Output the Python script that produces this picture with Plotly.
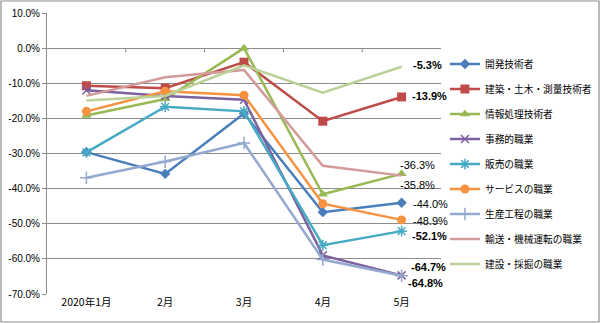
import plotly.graph_objects as go

months = ["2020年1月", "2月", "3月", "4月", "5月"]

series_names = [
    "開発技術者", "建築・土木・測量技術者", "情報処理技術者", "事務的職業",
    "販売の職業", "サービスの職業", "生産工程の職業", "輸送・機械運転の職業", "建設・採掘の職業",
]

kaihatsu = [-29.6, -35.8, -18.6, -46.7, -44.0]
kenchiku = [-10.7, -11.4, -4.0, -20.8, -13.9]
jouhou = [-19.2, -14.5, 0.0, -41.6, -35.8]
jimu = [-12.0, -13.6, -14.7, -59.0, -64.7]
hanbai = [-29.7, -16.7, -18.0, -56.1, -52.1]
service = [-18.0, -12.3, -13.4, -44.3, -48.9]
seisan = [-36.9, -32.3, -27.0, -60.2, -64.8]
yusou = [-13.6, -8.3, -6.2, -33.5, -36.3]
kensetsu = [-14.9, -13.6, -4.9, -12.7, -5.3]

values = [kaihatsu, kenchiku, jouhou, jimu, hanbai, service, seisan, yusou, kensetsu]

y_ticks = [10, 0, -10, -20, -30, -40, -50, -60, -70]
y_tick_labels = ["10.0%", "0.0%", "-10.0%", "-20.0%", "-30.0%", "-40.0%", "-50.0%", "-60.0%", "-70.0%"]

# styles
colors = ["#4A7EBB", "#BE4B48", "#98B954", "#7D60A0", "#46AAC5", "#F69240", "#93A9CF", "#D29B9A", "#BBD197"]
symbols = ["diamond", "square", "triangle-up", "x-thin", "asterisk", "circle", "cross-thin", None, None]
msizes = [8, 9, 9, 8, 9, 9, 9, 0, 0]
# label offsets (xshift, yshift, bold)
label_style = [
    (9, -1, False), (8, 1, True), (-4, -11, False), (7, 8, True), (8, -5, True),
    (9, -1, False), (4, -7, True), (-4, 11, False), (9, 2, True),
]

fig = go.Figure()
for i, (name, vals) in enumerate(zip(series_names, values)):
    marker = dict(color=colors[i], size=msizes[i])
    if symbols[i]:
        marker["symbol"] = symbols[i]
        if symbols[i] in ("x-thin", "asterisk", "cross-thin"):
            marker["line"] = dict(color=colors[i], width=1.5)
    fig.add_trace(go.Scatter(
        x=months, y=vals, name=name, legendgroup=name,
        mode="lines+markers" if symbols[i] else "lines",
        line=dict(color=colors[i], width=2.5),
        marker=marker,
    ))
    xs, ys, bold = label_style[i]
    txt = f"{vals[-1]:.1f}%"
    fig.add_annotation(
        x=months[-1], y=vals[-1], text=f"<b>{txt}</b>" if bold else txt,
        showarrow=False, xanchor="left", yanchor="middle",
        xshift=xs, yshift=ys,
        font=dict(family="Liberation Sans, Arial", size=11, color="#000000"),
    )

# tick marks on the zero line between categories
for k in range(1, len(months)):
    fig.add_shape(type="line", xref="x", yref="y", x0=k - 0.5, x1=k - 0.5,
                  y0=0, y1=-1.2, line=dict(color="#868686", width=1))

# outer border
fig.add_shape(type="rect", xref="paper", yref="paper",
              x0=-46 / 394, x1=552 / 394, y0=-28 / 281, y1=293 / 281,
              line=dict(color="#8C8C8C", width=1.2), fillcolor="rgba(0,0,0,0)", layer="below")

fig.update_layout(
    width=600, height=323,
    margin=dict(l=47, r=159, t=13, b=29, autoexpand=False),
    paper_bgcolor="white", plot_bgcolor="white",
    font=dict(family="Noto Sans CJK JP", size=11, color="#000000"),
    showlegend=True,
    legend=dict(
        x=1.01, y=0.870, xanchor="left", yanchor="top",
        font=dict(family="Noto Sans CJK JP", size=9.7, color="#000000"),
        tracegroupgap=6, itemwidth=30, bgcolor="rgba(0,0,0,0)",
    ),
    xaxis=dict(
        type="category", range=[-0.5, 4.5], showgrid=False,
        showline=False, ticks="", zeroline=False,
        tickfont=dict(family="Noto Sans CJK JP", size=10.5, color="#000000"),
        fixedrange=True,
    ),
    yaxis=dict(
        range=[-70, 10], tickvals=y_ticks, ticktext=y_tick_labels,
        showgrid=True, gridcolor="#8C8C8C", gridwidth=1,
        zeroline=True, zerolinecolor="#8C8C8C", zerolinewidth=1,
        showline=True, linecolor="#8C8C8C", linewidth=1,
        ticks="outside", ticklen=4, tickcolor="#8C8C8C",
        tickfont=dict(family="Liberation Sans, Arial", size=10, color="#000000"),
    ),
)

fig.write_html("out.html")
